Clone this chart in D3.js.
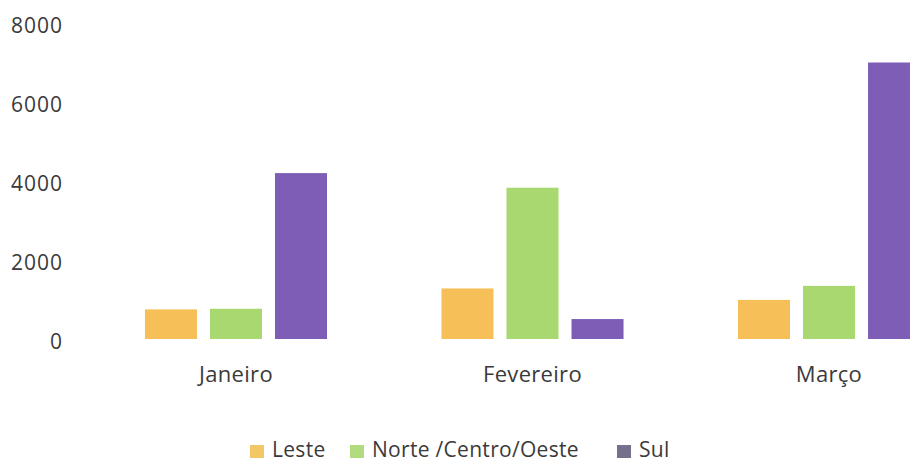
<!DOCTYPE html>
<html><head><meta charset="utf-8">
<script src="https://cdn.jsdelivr.net/npm/d3@7"></script>
<style>body{margin:0;background:#fff}svg{display:block}text{font-family:"Open Sans",sans-serif;fill:#3a3a3a}</style>
</head><body>
<svg id="c" width="910" height="464"></svg>
<script>
const categories = ["Janeiro", "Fevereiro", "Março"];
const seriesNames = ["Leste", "Norte /Centro/Oeste", "Sul"];
const leste = [750, 1280, 990];
const norte = [765, 3830, 1345];
const sul = [4200, 505, 7000];
const yTicks = [0, 2000, 4000, 6000, 8000];
const colors = ["#F6BF57", "#A9D870", "#7E5DB6"];
const legendColors = ["#F2C866", "#B2DA7E", "#77708C"];

const values = [leste, norte, sul];
const svg = d3.select("#c");
const y = d3.scaleLinear().domain([0, 8000]).range([339, 23]);
const x0 = d3.scaleBand().domain(categories).range([30.5, 1034.5]).paddingInner(0.386).paddingOuter(0.386);
const x1 = d3.scaleBand().domain(seriesNames).range([0, x0.bandwidth()]).paddingInner(0.2).paddingOuter(0);

const yAxis = d3.axisLeft(y).tickValues(yTicks).tickFormat(d3.format("d")).tickSize(0).tickPadding(0);
const gy = svg.append("g").attr("transform", "translate(63,0)").call(yAxis);
gy.select(".domain").remove();
gy.selectAll("text").style("font-size", "21px").style("letter-spacing", "1px")
  .attr("fill", "#3a3a3a").attr("dy", null).attr("y", 9);

const groups = svg.append("g").selectAll("g").data(categories).join("g")
  .attr("transform", d => `translate(${x0(d)},0)`);
groups.selectAll("rect").data((c, i) => seriesNames.map((s, j) => ({s, j, v: values[j][i]})))
  .join("rect")
  .attr("x", d => x1(d.s)).attr("width", x1.bandwidth())
  .attr("y", d => y(d.v)).attr("height", d => y(0) - y(d.v))
  .attr("fill", d => colors[d.j]);

const xAxis = d3.axisBottom(x0).tickSize(0).tickPadding(0);
const gx = svg.append("g").attr("transform", "translate(0,382)").call(xAxis);
gx.select(".domain").remove();
gx.selectAll("text").style("font-size", "22px").style("letter-spacing", "0.3px")
  .attr("fill", "#3a3a3a").attr("dy", null).attr("y", 0);

const markerX = [250, 350, 617];
const textX = [272, 372, 639];
const lg = svg.append("g").selectAll("g").data(seriesNames).join("g");
lg.append("rect").attr("x", (d, i) => markerX[i]).attr("y", 445).attr("width", 14).attr("height", 13)
  .attr("fill", (d, i) => legendColors[i]);
lg.append("text").attr("x", (d, i) => textX[i]).attr("y", 457)
  .style("font-size", "21px").style("letter-spacing", "0.3px").text(d => d);
</script>
</body></html>
